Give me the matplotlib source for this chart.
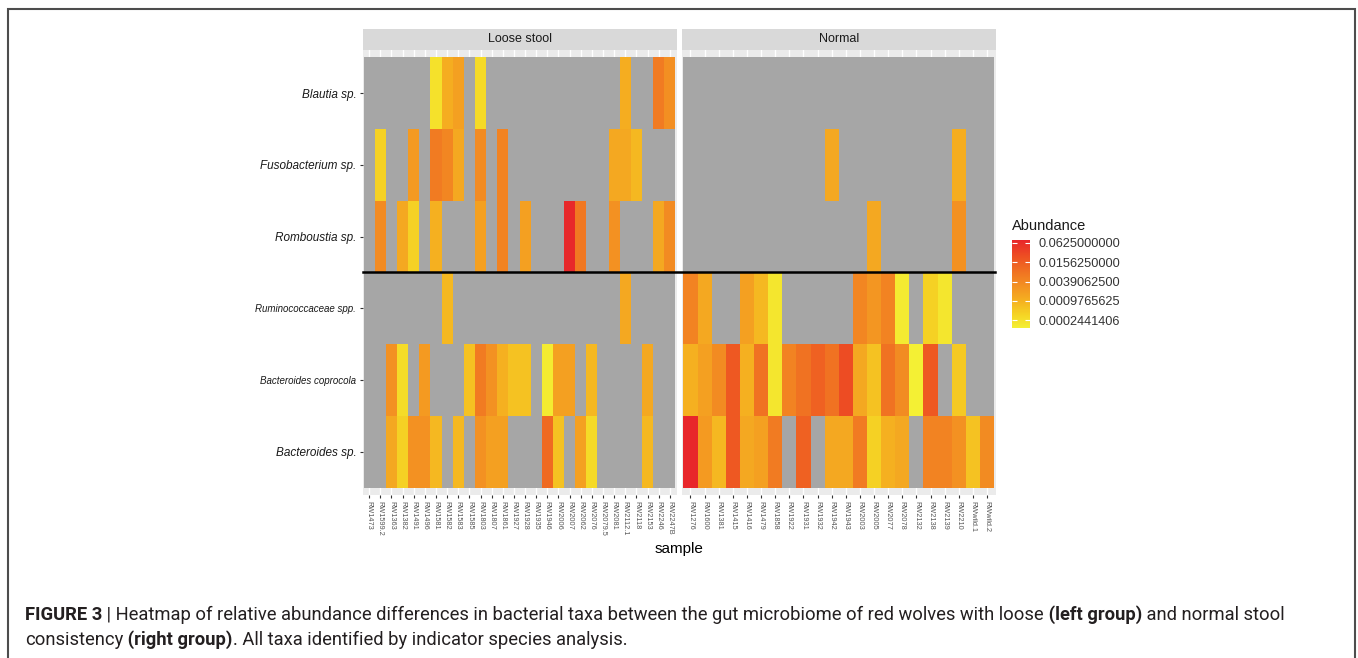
import numpy as np
import matplotlib
matplotlib.use('Agg')
from matplotlib import pyplot as plt
from matplotlib import transforms
from matplotlib.colors import LinearSegmentedColormap, LogNorm
from matplotlib.patches import Rectangle
from matplotlib.lines import Line2D

plt.rcParams['font.family'] = ['Liberation Sans', 'DejaVu Sans']

taxa = ['Blautia sp.', 'Fusobacterium sp.', 'Romboustia sp.',
        'Ruminococcaceae spp.', 'Bacteroides coprocola', 'Bacteroides sp.']
groups = ['Loose stool', 'Normal']

loose_samples = ['RW1473', 'RW1599.2', 'RW1363', 'RW1382', 'RW1491', 'RW1496',
                 'RW1581', 'RW1582', 'RW1583', 'RW1585', 'RW1803', 'RW1807',
                 'RW1861', 'RW1927', 'RW1928', 'RW1935', 'RW1946', 'RW2006',
                 'RW2007', 'RW2062', 'RW2076', 'RW2079.5', 'RW2081', 'RW2112.1',
                 'RW2118', 'RW2153', 'RW2246', 'RW2247B']
normal_samples = ['RW1276', 'RW1600', 'RW1381', 'RW1415', 'RW1416', 'RW1479',
                  'RW1858', 'RW1922', 'RW1931', 'RW1932', 'RW1942', 'RW1943',
                  'RW2003', 'RW2005', 'RW2077', 'RW2078', 'RW2132', 'RW2138',
                  'RW2139', 'RW2210', 'RWwild.1', 'RWwild.2']

# relative abundance per taxon, 0 = not detected (grey tile)
loose_blautia = [0, 0, 0, 0, 0, 0, 0.00024, 0.0011, 0.0017, 0, 0.0003, 0, 0, 0,
                 0, 0, 0, 0, 0, 0, 0, 0, 0, 0.0011, 0, 0, 0.0059, 0.0030]
loose_fuso = [0, 0.0004, 0, 0, 0.0021, 0, 0.0059, 0.0040, 0.0013, 0, 0.0034, 0,
              0.0045, 0, 0, 0, 0, 0, 0, 0, 0, 0, 0.0013, 0.0013, 0.0008, 0, 0, 0]
loose_romb = [0, 0.0034, 0, 0.0013, 0.0004, 0, 0.0010, 0, 0, 0, 0.0017, 0,
              0.0045, 0, 0.0017, 0, 0, 0, 0.072, 0.0065, 0, 0, 0.0028, 0, 0, 0,
              0.0013, 0.0034]
loose_rumino = [0, 0, 0, 0, 0, 0, 0, 0.0008, 0, 0, 0, 0, 0, 0, 0, 0, 0, 0, 0, 0,
                0, 0, 0, 0.0013, 0, 0, 0, 0]
loose_copro = [0, 0, 0.0028, 0.00028, 0, 0.0021, 0, 0, 0, 0.0006, 0.0059, 0.0028,
               0.0010, 0.0006, 0.0006, 0, 0.00017, 0.0017, 0.0017, 0, 0.0008, 0,
               0, 0, 0, 0.0013, 0, 0]
loose_bact = [0, 0, 0.0013, 0.0004, 0.0028, 0.0028, 0.0008, 0, 0.0008, 0, 0.0028,
              0.0017, 0.0017, 0, 0, 0, 0.0103, 0.0006, 0, 0.0017, 0.0003, 0, 0, 0,
              0, 0.0008, 0, 0]

normal_blautia = [0] * 22
normal_fuso = [0, 0, 0, 0, 0, 0, 0, 0, 0, 0, 0.0013, 0, 0, 0, 0, 0, 0, 0, 0,
               0.0011, 0, 0]
normal_romb = [0, 0, 0, 0, 0, 0, 0, 0, 0, 0, 0, 0, 0, 0.0013, 0, 0, 0, 0, 0,
               0.0028, 0, 0]
normal_rumino = [0.0045, 0.0013, 0, 0, 0.0017, 0.0008, 0.0002, 0, 0, 0, 0, 0,
                 0.0040, 0.0024, 0.0045, 0.00017, 0, 0.0004, 0.0002, 0, 0, 0]
normal_copro = [0.0010, 0.0017, 0.0034, 0.0179, 0.0010, 0.0078, 0.0002, 0.0045,
                0.0078, 0.0136, 0.0078, 0.0254, 0.0013, 0.0006, 0.0078, 0.0034,
                0.00014, 0.0179, 0, 0.0005, 0, 0]
normal_bact = [0.077, 0.0021, 0.0008, 0.0179, 0.0013, 0.0017, 0.0059, 0, 0.0136,
               0, 0.0013, 0.0013, 0.0059, 0.0004, 0.0010, 0.0013, 0, 0.0045,
               0.0045, 0.0028, 0.0006, 0.0034]

legend_breaks = [0.0625, 0.015625, 0.00390625, 0.0009765625, 0.000244140625]

loose = np.array([loose_blautia, loose_fuso, loose_romb,
                  loose_rumino, loose_copro, loose_bact], dtype=float)
normal = np.array([normal_blautia, normal_fuso, normal_romb,
                   normal_rumino, normal_copro, normal_bact], dtype=float)

allv = np.concatenate([loose.ravel(), normal.ravel()])
allv = allv[allv > 0]
norm = LogNorm(vmin=allv.min(), vmax=allv.max())

# yellow -> red, roughly like ggplot's lab gradient
cmap = LinearSegmentedColormap.from_list('yr', [
    (0.0, '#F4F034'), (0.15, '#F5D424'), (0.31, '#F5B020'), (0.47, '#F39222'),
    (0.64, '#F07222'), (0.80, '#EE5222'), (1.0, '#E8262A')])
cmap.set_bad('#A6A6A6')

W, H = 1358, 658
fig = plt.figure(figsize=(W / 100, H / 100), dpi=100)
fig.patch.set_facecolor('white')


def rect(x0, y0, x1, y1):
    return [x0 / W, 1 - y1 / H, (x1 - x0) / W, (y1 - y0) / H]


panels = [(groups[0], loose, loose_samples, (362.5, 676.5)),
          (groups[1], normal, normal_samples, (682, 995.5))]
axes = []
mesh = None
for i, (name, mat, samples, (x0, x1)) in enumerate(panels):
    ax = fig.add_axes(rect(x0, 50, x1, 495))
    n = len(samples)
    ax.set_facecolor('#EBEBEB')
    ax.set_axisbelow(True)
    masked = np.ma.masked_where(mat <= 0, mat)
    mesh = ax.pcolormesh(np.arange(n + 1) - 0.5, np.arange(len(taxa) + 1) - 0.5,
                         masked, cmap=cmap, norm=norm, zorder=1)
    ax.set_xlim(-0.6, n - 0.4)
    ax.set_ylim(len(taxa) - 0.4, -0.6)
    ax.set_xticks(range(n))
    ax.set_xticklabels(samples, rotation=270, fontsize=5.3, color='#555555')
    ax.grid(axis='x', color='white', lw=1.0)
    ax.tick_params(axis='x', length=2.5, width=0.8, color='#333333', pad=1.5)
    ax.set_yticks(range(len(taxa)))
    if i == 0:
        ax.set_yticklabels(taxa, style='italic', color='#1A1A1A')
        for lab, fs in zip(ax.get_yticklabels(), [8.5, 8.5, 8.5, 7, 7, 8.5]):
            lab.set_fontsize(fs)
        ax.tick_params(axis='y', length=2.5, width=0.8, color='#333333', pad=2)
    else:
        ax.set_yticklabels([])
        ax.tick_params(axis='y', length=0)
    for s in ax.spines.values():
        s.set_visible(False)

    # facet strip
    sax = fig.add_axes(rect(x0, 28.5, x1, 50))
    sax.set_facecolor('#D9D9D9')
    sax.set_xticks([])
    sax.set_yticks([])
    for s in sax.spines.values():
        s.set_visible(False)
    sax.text(0.5, 0.5, name, ha='center', va='center', fontsize=9,
             color='#1A1A1A', transform=sax.transAxes)
    axes.append(ax)

# divider between upper and lower taxa, across both panels
trans = transforms.blended_transform_factory(fig.transFigure, axes[0].transData)
fig.add_artist(Line2D([362.5 / W, 995.5 / W], [2.5, 2.5], transform=trans,
                      color='black', lw=1.8))

fig.text(679 / W, 1 - 549 / H, 'sample', ha='center', va='center',
         fontsize=11, color='black')

# legend
cax = fig.add_axes(rect(1012, 240, 1030, 328))
cb = fig.colorbar(mesh, cax=cax)
cb.outline.set_visible(False)
cb.set_ticks(legend_breaks)
cb.set_ticklabels(['%.10f' % v for v in legend_breaks])
cb.minorticks_off()
cax.tick_params(which='both', direction='in', color='white', length=3.5,
                width=0.8, left=True, right=True, labelsize=9.2,
                labelcolor='#333333', pad=6)
fig.text(1012 / W, 1 - 226 / H, 'Abundance', ha='left', va='center',
         fontsize=10.5, color='#1A1A1A')

# frame around figure
fig.add_artist(Rectangle((8 / W, -0.2), (1355 - 8) / W, 1.2 - 9 / H,
                         transform=fig.transFigure, fill=False,
                         edgecolor='#4D4D4D', lw=1.5))

# caption with mixed weights
renderer = fig.canvas.get_renderer()


def caption_line(y_px, parts, size=13.2):
    x = 25.0
    for txt, bold in parts:
        t = fig.text(x / W, 1 - y_px / H, txt, fontsize=size, ha='left',
                     va='baseline', color='#231F20',
                     family=['Roboto', 'DejaVu Sans'],
                     fontweight='bold' if bold else 'normal')
        x += t.get_window_extent(renderer).width


caption_line(620, [('FIGURE 3', True),
                   (' | Heatmap of relative abundance differences in bacterial taxa '
                    'between the gut microbiome of red wolves with loose', False),
                   (' (left group)', True),
                   (' and normal stool', False)])
caption_line(645, [('consistency', False),
                   (' (right group)', True),
                   ('. All taxa identified by indicator species analysis.', False)])

fig.savefig('out.png', dpi=100)
